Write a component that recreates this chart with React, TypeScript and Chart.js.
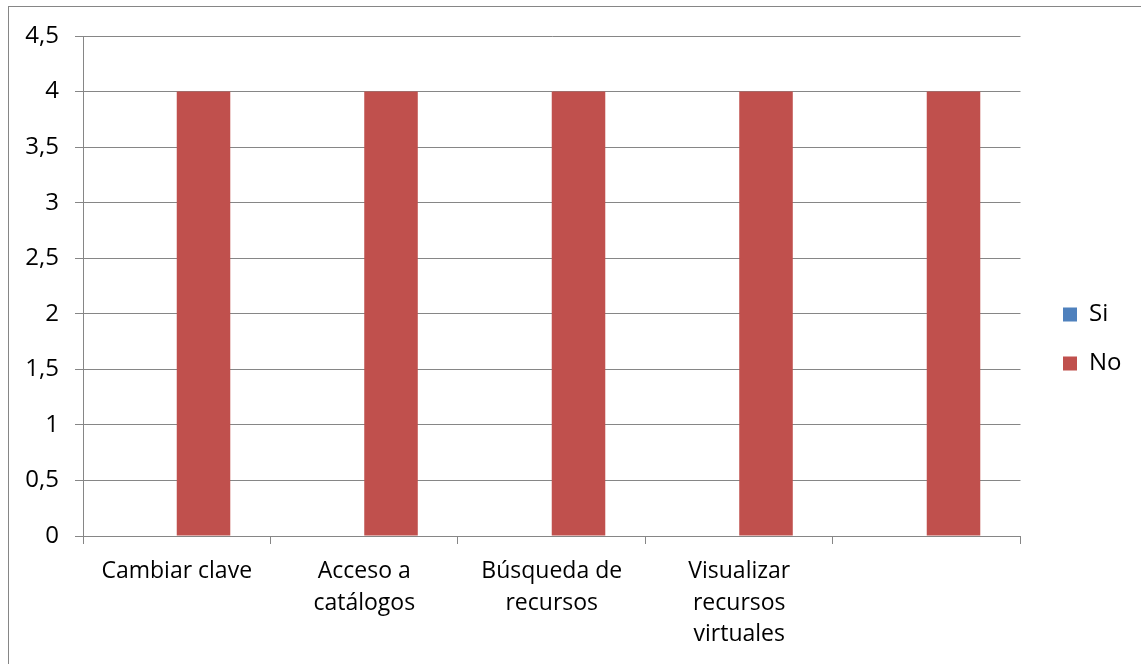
import React, { useEffect, useRef } from "react";
import { Chart, registerables } from "chart.js";

Chart.register(...registerables);

const categories: (string | string[])[] = [
  "Cambiar clave",
  ["Acceso a", "catálogos"],
  ["Búsqueda de", "recursos"],
  ["Visualizar", "recursos", "virtuales"],
  "",
];
const siValues = [0, 0, 0, 0, 0];
const noValues = [4, 4, 4, 4, 4];
const seriesNames = ["Si", "No"];

const GRID = "#868686";
const FONT = "'Open Sans', sans-serif";

const framePlugin = {
  id: "frame",
  beforeDraw(chart: any) {
    const ctx = chart.ctx;
    ctx.save();
    ctx.fillStyle = "#ffffff";
    ctx.fillRect(0, 0, chart.width, chart.height);
    ctx.strokeStyle = GRID;
    ctx.lineWidth = 1;
    ctx.strokeRect(8.5, 6.5, 1200, 800);
    ctx.restore();
  },
  afterLayout(chart: any) {
    const lg = chart.legend;
    if (lg) {
      const dx = 1038 - lg.left;
      lg.left += dx;
      lg.right += dx;
      lg.top -= 11;
      lg.bottom -= 11;
    }
  },
};

export default function App() {
  const ref = useRef<HTMLCanvasElement | null>(null);
  useEffect(() => {
    if (!ref.current) return;
    const chart = new Chart(ref.current, {
      type: "bar",
      data: {
        labels: categories,
        datasets: [
          {
            label: seriesNames[0],
            data: siValues,
            backgroundColor: "#4F81BD",
            categoryPercentage: 0.571,
            barPercentage: 1,
          },
          {
            label: seriesNames[1],
            data: noValues,
            backgroundColor: "#C0504D",
            categoryPercentage: 0.571,
            barPercentage: 1,
          },
        ],
      },
      options: {
        responsive: false,
        animation: false,
        devicePixelRatio: 1,
        layout: { padding: { top: 36, left: 0, right: 27, bottom: 0 } },
        plugins: {
          tooltip: { enabled: false },
          legend: {
            position: "right",
            labels: {
              boxWidth: 14,
              boxHeight: 14,
              padding: 25,
              color: "#000000",
              font: { family: FONT, size: 24 },
            },
          },
        },
        scales: {
          x: {
            afterFit: (s: any) => {
              s.height = 128;
            },
            grid: {
              offset: true,
              drawOnChartArea: false,
              drawTicks: true,
              tickLength: 8,
              color: GRID,
            },
            border: { color: GRID, width: 1 },
            ticks: {
              color: "#000000",
              padding: 12,
              maxRotation: 0,
              autoSkip: false,
              font: { family: FONT, size: 23, lineHeight: 1.37 },
            },
          },
          y: {
            min: 0,
            max: 4.5,
            afterFit: (s: any) => {
              s.width = 83;
            },
            grid: {
              color: GRID,
              tickLength: 8,
              drawTicks: true,
            },
            border: { color: GRID, width: 1 },
            ticks: {
              stepSize: 0.5,
              color: "#000000",
              padding: 16,
              font: { family: FONT, size: 24 },
              callback: (v: any) => String(v).replace(".", ","),
            },
          },
        },
      },
      plugins: [framePlugin],
    });
    return () => chart.destroy();
  }, []);
  return (
    <div style={{ position: "absolute", left: 0, top: 0, width: 1141, height: 664 }}>
      <canvas ref={ref} width={1141} height={664} />
    </div>
  );
}
